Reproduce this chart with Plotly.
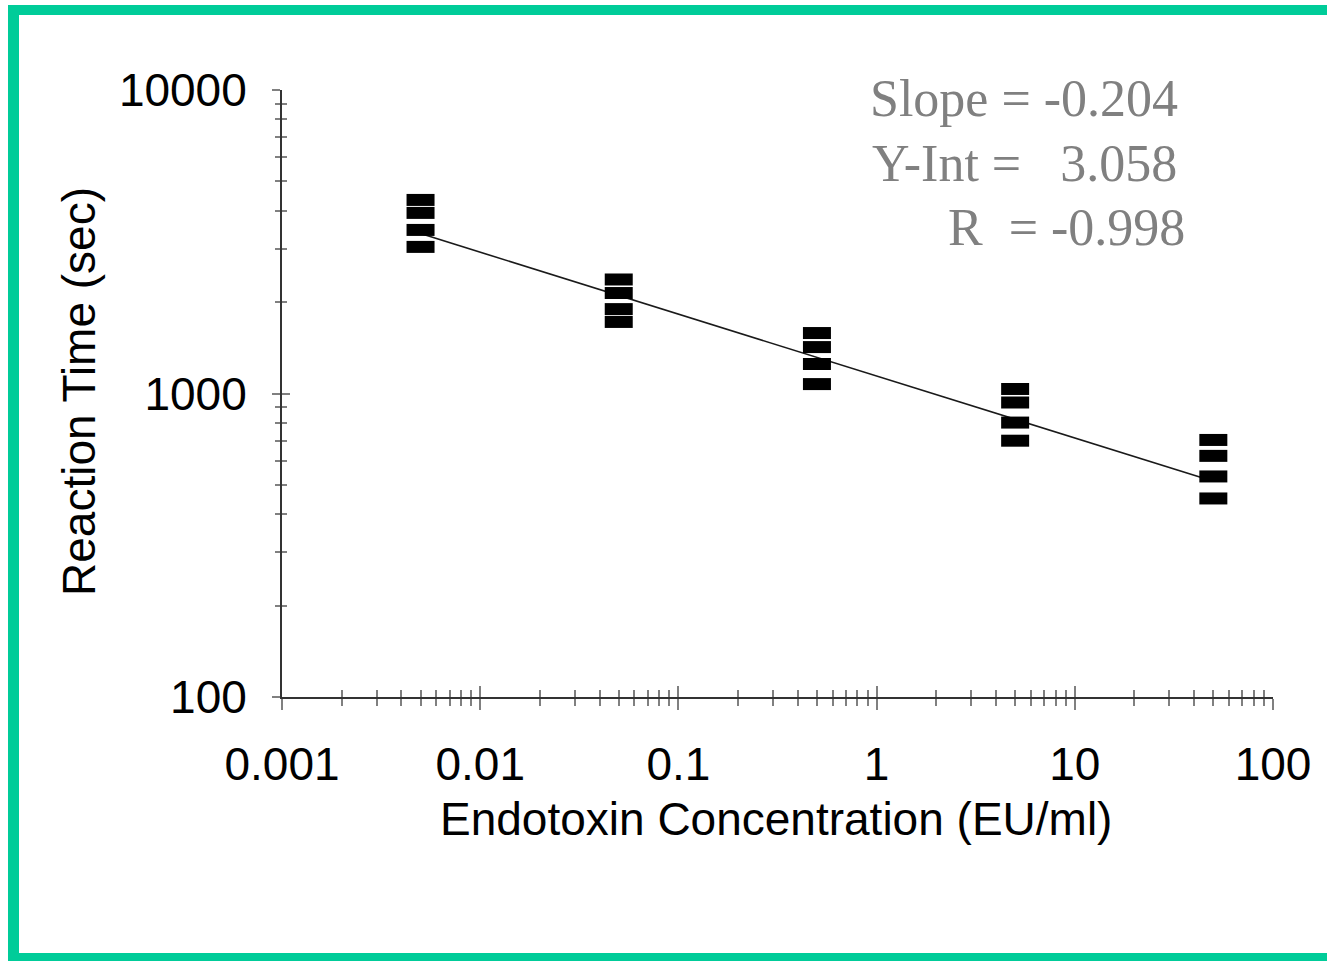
import plotly.graph_objects as go

# ---------------- data ----------------
conc = [0.005, 0.05, 0.5, 5, 50]                 # EU/ml
time_rep1 = [4343, 2375, 1582, 1035, 703]        # sec
time_rep2 = [3936, 2143, 1422, 934, 623]
time_rep3 = [3459, 1897, 1251, 802, 533]
time_rep4 = [3041, 1721, 1074, 699, 451]

fit_conc = [0.005, 50]
fit_time = [3365, 514]

stats_lines = ["Slope = -0.204", "Y-Int =\u00a0\u00a0 3.058", "R\u00a0 = -0.998"]

x_tick_vals = [0.001, 0.01, 0.1, 1, 10, 100]
x_tick_text = ["0.001", "0.01", "0.1", "1", "10", "100"]
y_tick_vals = [100, 1000, 10000]
y_tick_text = ["100", "1000", "10000"]

x_title = "Endotoxin Concentration (EU/ml)"
y_title = "Reaction Time (sec)"

# ---------------- layout helpers ----------------
W, H = 1327, 961
L, R, T, B = 282, 1273, 90, 697   # plot area in pixels


def xp(px):
    return (px - L) / (R - L)


def yp(py):
    return (B - py) / (B - T)


x_minor = [m * 10 ** e for e in range(-3, 2) for m in range(2, 10)]
y_minor = [m * 10 ** e for e in range(2, 4) for m in range(2, 10)]

SANS = "Liberation Sans, Arial, sans-serif"
SERIF = "Liberation Serif, Times New Roman, serif"
TICK_C = "#808080"
AXIS_C = "#333333"

fig = go.Figure()

fig.add_trace(go.Scatter(
    x=fit_conc, y=fit_time, mode="lines",
    line=dict(color="#1a1a1a", width=1.6),
    showlegend=False, hoverinfo="skip"))

for reps in (time_rep1, time_rep2, time_rep3, time_rep4):
    fig.add_trace(go.Scatter(
        x=conc, y=reps, mode="markers",
        marker=dict(symbol="line-ew", size=20,
                    line=dict(width=12, color="black")),
        showlegend=False))

# dummy trace to make overlay axes (inner tick halves) render
fig.add_trace(go.Scatter(
    x=[1], y=[1000], xaxis="x2", yaxis="y2", mode="markers",
    marker=dict(opacity=0), hoverinfo="skip", showlegend=False))

common_x = dict(type="log", range=[-3, 2], showgrid=False, zeroline=False)
common_y = dict(type="log", range=[2, 4], showgrid=False, zeroline=False)

fig.update_layout(
    width=W, height=H,
    margin=dict(l=L, r=W - R, t=T, b=H - B, pad=0),
    paper_bgcolor="white", plot_bgcolor="white",
    xaxis=dict(
        **common_x,
        showline=True, linecolor=AXIS_C, linewidth=2,
        ticks="outside", ticklen=11, tickwidth=2, tickcolor=TICK_C,
        tickmode="array", tickvals=x_tick_vals, ticktext=x_tick_text,
        tickfont=dict(family=SANS, size=46, color="black"),
        ticklabelstandoff=15,
        minor=dict(ticks="outside", ticklen=7, tickwidth=2, tickcolor=TICK_C,
                   tickmode="array", tickvals=x_minor, showgrid=False),
    ),
    yaxis=dict(
        **common_y,
        showline=True, linecolor=AXIS_C, linewidth=2,
        ticks="outside", ticklen=8, tickwidth=2, tickcolor=TICK_C,
        tickmode="array", tickvals=y_tick_vals, ticktext=y_tick_text,
        tickfont=dict(family=SANS, size=46, color="black"),
        ticklabelstandoff=16,
        minor=dict(ticks="outside", ticklen=5, tickwidth=2, tickcolor=TICK_C,
                   tickmode="array", tickvals=y_minor, showgrid=False),
    ),
    xaxis2=dict(
        **common_x, overlaying="x", anchor="y", side="bottom",
        showline=False, showticklabels=False,
        ticks="inside", ticklen=11, tickwidth=2, tickcolor=TICK_C,
        tickmode="array", tickvals=x_tick_vals,
        minor=dict(ticks="inside", ticklen=7, tickwidth=2, tickcolor=TICK_C,
                   tickmode="array", tickvals=x_minor, showgrid=False),
    ),
    yaxis2=dict(
        **common_y, overlaying="y", anchor="x", side="left",
        showline=False, showticklabels=False,
        ticks="inside", ticklen=8, tickwidth=2, tickcolor=TICK_C,
        tickmode="array", tickvals=y_tick_vals,
        minor=dict(ticks="inside", ticklen=5, tickwidth=2, tickcolor=TICK_C,
                   tickmode="array", tickvals=y_minor, showgrid=False),
    ),
)

# axis titles
fig.add_annotation(text=x_title, xref="paper", yref="paper",
                   x=xp(776), y=yp(819), xanchor="center", yanchor="middle",
                   showarrow=False, font=dict(family=SANS, size=46, color="black"))
fig.add_annotation(text=y_title, xref="paper", yref="paper", textangle=-90,
                   x=xp(79), y=yp(392), xanchor="center", yanchor="middle",
                   showarrow=False, font=dict(family=SANS, size=46, color="black"))

# regression statistics
stat_pos = [(868, 99), (870, 163), (946, 227)]
for txt, (px, py) in zip(stats_lines, stat_pos):
    fig.add_annotation(text=txt, xref="paper", yref="paper",
                       x=xp(px), y=yp(py), xanchor="left", yanchor="middle",
                       showarrow=False,
                       font=dict(family=SERIF, size=52, color="#808080"))

# green frame
GREEN = "#00CC99"
for (x0, y0, x1, y1) in [(8, 5, 1327, 15), (8, 5, 19, 961), (8, 953, 1327, 961)]:
    fig.add_shape(type="rect", xref="paper", yref="paper",
                  x0=xp(x0), x1=xp(x1), y0=yp(y0), y1=yp(y1),
                  fillcolor=GREEN, line=dict(width=0))

fig.write_html("out.html",
               config={"displayModeBar": False},
               post_script="document.body.style.margin='0';"
                           "document.body.style.overflow='hidden';")
